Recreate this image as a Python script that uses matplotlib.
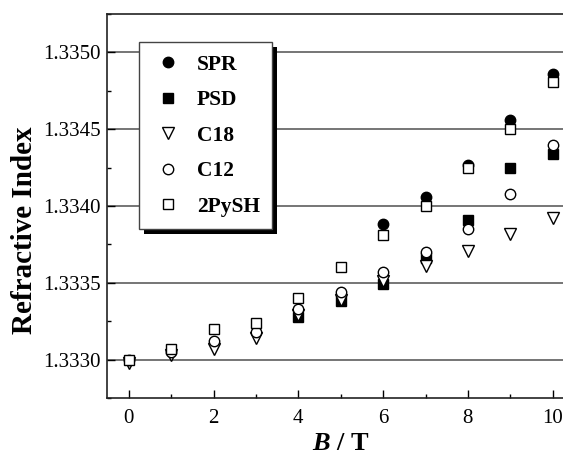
import matplotlib
matplotlib.use("Agg")
import matplotlib.pyplot as plt
from matplotlib.patches import Rectangle
from matplotlib.ticker import MultipleLocator, FormatStrFormatter

plt.rcParams['font.family'] = ['Liberation Serif', 'DejaVu Serif']
plt.rcParams['mathtext.fontset'] = 'custom'
plt.rcParams['mathtext.it'] = 'Liberation Serif:bold:italic'
plt.rcParams['mathtext.rm'] = 'Liberation Serif:bold'

# Data
field = [0, 1, 2, 3, 4, 5, 6, 7, 8, 9, 10]
spr_field = [6, 7, 8, 9, 10]
spr = [1.33388, 1.33406, 1.33427, 1.33456, 1.33486]
psd_field = [4, 5, 6, 7, 8, 9, 10]
psd = [1.33328, 1.33338, 1.33349, 1.33366, 1.33391, 1.33425, 1.33434]
c18 = [1.33298, 1.33303, 1.33307, 1.33314, 1.33329, 1.33339, 1.33351, 1.33361, 1.33371, 1.33382, 1.33392]
c12 = [1.33300, 1.33305, 1.33312, 1.33318, 1.33333, 1.33344, 1.33357, 1.33370, 1.33385, 1.33408, 1.33440]
pysh = [1.33300, 1.33307, 1.33320, 1.33324, 1.33340, 1.33360, 1.33381, 1.33400, 1.33425, 1.33450, 1.33481]

W, H = 563, 457
fig = plt.figure(figsize=(W / 100, H / 100), dpi=100)
ax = fig.add_axes([107.5 / W, (H - 398) / H, 466.4 / W, 384 / H])

ms = 7.5
ax.plot(spr_field, spr, 'o', color='black', ms=ms, label='SPR', zorder=3)
ax.plot(psd_field, psd, 's', color='black', ms=ms * 0.95, label='PSD', zorder=4)
ax.plot(field, c18, 'v', mfc='white', mec='black', mew=1.0, ms=ms + 0.5, label='C18', zorder=5)
ax.plot(field, c12, 'o', mfc='white', mec='black', mew=1.0, ms=ms, label='C12', zorder=6)
ax.plot(field, pysh, 's', mfc='white', mec='black', mew=1.0, ms=ms * 0.95, label='2PySH', zorder=7)

ax.set_xlim(-0.5, 10.5)
ax.set_ylim(1.33275, 1.33525)
ax.xaxis.set_major_locator(MultipleLocator(2))
ax.xaxis.set_minor_locator(MultipleLocator(1))
ax.yaxis.set_major_locator(MultipleLocator(0.0005))
ax.yaxis.set_minor_locator(MultipleLocator(0.00025))
ax.yaxis.set_major_formatter(FormatStrFormatter('%.4f'))
ax.grid(axis='y', which='major', color='#505050', lw=1.1, zorder=1)
ax.set_axisbelow(True)

ax.tick_params(which='both', direction='in', top=False, right=False, labelsize=15, colors='black')
ax.tick_params(which='major', length=6, width=1.0)
ax.tick_params(which='minor', length=3, width=1.0)
ax.tick_params(axis='y', which='major', pad=5)
ax.tick_params(axis='x', which='major', pad=8)
for s in ax.spines.values():
    s.set_linewidth(1.2)
    s.set_color('#222222')

ax.set_ylabel('Refractive Index', fontsize=21, fontweight='bold')
ax.yaxis.set_label_coords(-0.150, 0.4375)
ax.set_xlabel(r'$\mathit{B}$ / T', fontsize=19, fontweight='bold', labelpad=3)

leg = ax.legend(loc='upper left', bbox_to_anchor=(0.0675, 0.927), borderaxespad=0,
                numpoints=1, fancybox=False, framealpha=1, edgecolor='#444444',
                prop={'weight': 'bold', 'size': 15.5}, handlelength=1.5, handletextpad=0.6,
                labelspacing=0.72, borderpad=0.58)
leg.get_frame().set_linewidth(1.0)
leg.set_zorder(20)

fig.canvas.draw()
bb = leg.get_frame().get_window_extent().transformed(fig.transFigure.inverted())
off_x, off_y = 5 / W, 5 / H
shadow = Rectangle((bb.x0 + off_x, bb.y0 - off_y), bb.width, bb.height, transform=fig.transFigure,
                   facecolor='black', edgecolor='none', zorder=19)
ax.add_artist(shadow)
shadow.set_clip_on(False)

fig.savefig('out.png', dpi=100)
